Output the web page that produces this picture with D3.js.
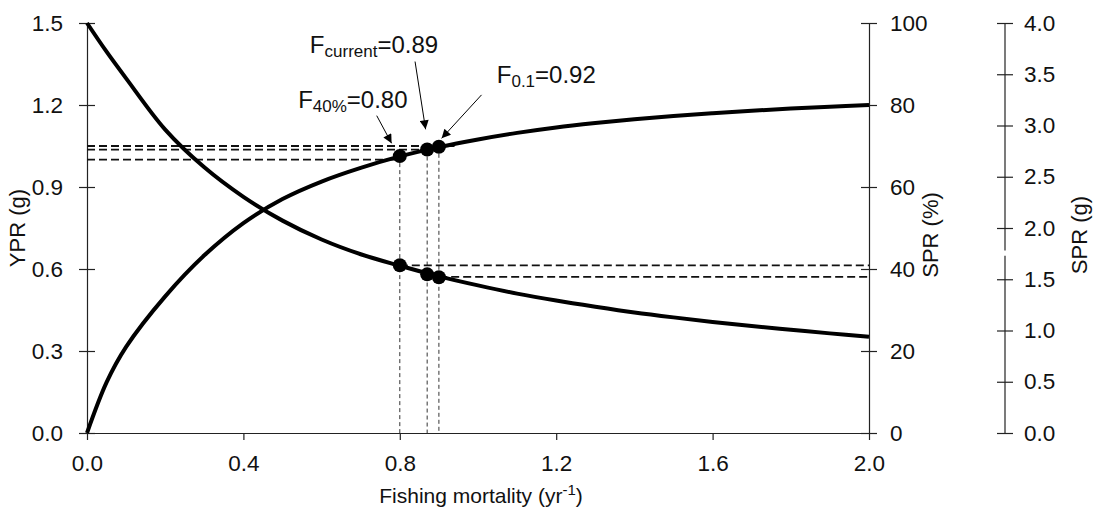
<!DOCTYPE html>
<html>
<head>
<meta charset="utf-8">
<script src="https://cdn.jsdelivr.net/npm/d3@7"></script>
<style>
  body { margin: 0; background: #fff; }
  svg { display: block; font-family: "Liberation Sans", Arial, sans-serif; }
</style>
</head>
<body>
<svg id="chart" width="1094" height="513"></svg>
<script>
// ---------- data ----------
const F = [0.0,0.05,0.1,0.2,0.3,0.4,0.5,0.6,0.7,0.8,0.9,1.0,1.1,1.2,1.3,1.4,1.5,1.6,1.7,1.8,1.9,2.0];
const ypr = [0.000,0.185,0.315,0.500,0.650,0.768,0.856,0.920,0.970,1.012,1.046,1.074,1.098,1.118,1.134,1.148,1.160,1.170,1.179,1.187,1.194,1.200];
const sprPct = [100,93.0,86.5,74.0,64.8,57.6,51.8,47.2,43.6,40.8,38.2,36.0,34.0,32.3,30.8,29.4,28.2,27.1,26.1,25.2,24.3,23.5];

const refF     = [0.80, 0.87, 0.90];          // plotted reference points
const refYPR   = [1.013, 1.037, 1.047];
const refSPR   = [40.9, 38.7, 38.0];
const yprLineVal = [1.000, 1.037, 1.050];     // upper dashed guides (YPR)
const yprLineEnd = [0.80, 0.87, 0.94];
const sprLineVal = [40.9, 38.1];              // lower dashed guides (SPR %)
const sprLineStart = [0.80, 0.87];

const labelMain = ["F", "F", "F"];
const labelSub  = ["40%", "current", "0.1"];
const labelVal  = ["=0.80", "=0.89", "=0.92"];
const labelF    = [0.540, 0.570, 1.048];
const labelY    = [1.188, 1.389, 1.280];
const arrowFromF = [0.741, 0.839, 1.009];
const arrowFromY = [1.161, 1.359, 1.237];
const arrowToF   = [0.779, 0.866, 0.907];
const arrowToY   = [1.060, 1.111, 1.078];

const xTicks = [0.0, 0.4, 0.8, 1.2, 1.6, 2.0];
const yTicks = [0.0, 0.3, 0.6, 0.9, 1.2, 1.5];
const sprTicks = [0, 20, 40, 60, 80, 100];
const sprGTicks = [0.0, 0.5, 1.0, 1.5, 2.0, 2.5, 3.0, 3.5, 4.0];
const sprGBreak = [1.73, 1.78];

// ---------- layout ----------
const svg = d3.select("#chart");
const x0 = 87, x1 = 869, yB = 433, yT = 23, xR2 = 1005;
const x = d3.scaleLinear().domain([0, 2]).range([x0, x1]);
const y = d3.scaleLinear().domain([0, 1.5]).range([yB, yT]);
const yS = d3.scaleLinear().domain([0, 100]).range([yB, yT]);
const yG = d3.scaleLinear().domain([0, 4]).range([yB, yT]);
const axisColor = "#222";
const tickFont = 22.5;

function styleAxis(g) {
  g.selectAll("path.domain").attr("stroke", axisColor).attr("stroke-width", 1.2);
  g.selectAll(".tick line").attr("stroke", axisColor).attr("stroke-width", 1.2);
  g.selectAll(".tick text").attr("fill", "#111").style("font-size", tickFont + "px")
    .style("font-family", '"Liberation Sans", Arial, sans-serif');
}

// x axis
const gx = svg.append("g").attr("transform", `translate(0,${yB})`)
  .call(d3.axisBottom(x).tickValues(xTicks).tickFormat(d3.format(".1f")).tickSize(7).tickPadding(15).tickSizeOuter(0));
styleAxis(gx);

// left axis
const gy = svg.append("g").attr("transform", `translate(${x0},0)`)
  .call(d3.axisLeft(y).tickValues(yTicks).tickFormat(d3.format(".1f")).tickSize(8).tickPadding(16).tickSizeOuter(0));
gy.selectAll(".tick").append("line").attr("x2", 8);
styleAxis(gy);

// right axis 1 (SPR %)
const gs = svg.append("g").attr("transform", `translate(${x1},0)`)
  .call(d3.axisRight(yS).tickValues(sprTicks).tickFormat(d3.format("d")).tickSize(8).tickPadding(13).tickSizeOuter(0));
gs.selectAll(".tick").append("line").attr("x2", -8);
styleAxis(gs);

// right axis 2 (SPR g) with small break
const gg = svg.append("g").attr("transform", `translate(${xR2},0)`)
  .call(d3.axisRight(yG).tickValues(sprGTicks).tickFormat(d3.format(".1f")).tickSize(8).tickPadding(11).tickSizeOuter(0));
gg.selectAll(".tick").append("line").attr("x2", -8);
gg.select("path.domain").remove();
styleAxis(gg);
gg.append("line").attr("x1", 0).attr("x2", 0).attr("y1", yG(0)).attr("y2", yG(sprGBreak[0]))
  .attr("stroke", axisColor).attr("stroke-width", 1.2);
gg.append("line").attr("x1", 0).attr("x2", 0).attr("y1", yG(sprGBreak[1])).attr("y2", yG(4))
  .attr("stroke", axisColor).attr("stroke-width", 1.2);

// ---------- guides ----------
const guides = svg.append("g");
refF.forEach((f, i) => {
  guides.append("line").attr("x1", x(f)).attr("x2", x(f)).attr("y1", y(refYPR[i])).attr("y2", yB)
    .attr("stroke", "#333").attr("stroke-width", 1).attr("stroke-dasharray", "4,3");
});
yprLineVal.forEach((v, i) => {
  guides.append("line").attr("x1", x0).attr("x2", x(yprLineEnd[i])).attr("y1", y(v)).attr("y2", y(v))
    .attr("stroke", "#111").attr("stroke-width", 1.8).attr("stroke-dasharray", "8,4");
});
sprLineVal.forEach((v, i) => {
  guides.append("line").attr("x1", x(sprLineStart[i])).attr("x2", x1).attr("y1", yS(v)).attr("y2", yS(v))
    .attr("stroke", "#111").attr("stroke-width", 1.8).attr("stroke-dasharray", "8,4");
});

// ---------- curves ----------
const curve = d3.curveCatmullRom.alpha(0.5);
const lineY = d3.line().x((d, i) => x(F[i])).y(d => y(d)).curve(curve);
const lineS = d3.line().x((d, i) => x(F[i])).y(d => yS(d)).curve(curve);
svg.append("path").attr("d", lineY(ypr)).attr("fill", "none").attr("stroke", "#000").attr("stroke-width", 4);
svg.append("path").attr("d", lineS(sprPct)).attr("fill", "none").attr("stroke", "#000").attr("stroke-width", 4);

// ---------- points ----------
refF.forEach((f, i) => {
  svg.append("circle").attr("cx", x(f)).attr("cy", y(refYPR[i])).attr("r", 7).attr("fill", "#000");
  svg.append("circle").attr("cx", x(f)).attr("cy", yS(refSPR[i])).attr("r", 7).attr("fill", "#000");
});

// ---------- annotations ----------
const defs = svg.append("defs");
defs.append("marker").attr("id", "ah").attr("viewBox", "0 0 10 10").attr("refX", 10).attr("refY", 5)
  .attr("markerWidth", 13).attr("markerHeight", 9).attr("markerUnits", "userSpaceOnUse")
  .attr("orient", "auto")
  .append("path").attr("d", "M0,0 L10,5 L0,10 z").attr("fill", "#000");

labelMain.forEach((m, i) => {
  const t = svg.append("text").attr("x", x(labelF[i])).attr("y", y(labelY[i]))
    .attr("fill", "#111").style("font-size", "24px");
  t.append("tspan").text(m);
  t.append("tspan").text(labelSub[i]).style("font-size", "17px").attr("dy", 4);
  t.append("tspan").text(labelVal[i]).attr("dy", -4);
  svg.append("line").attr("x1", x(arrowFromF[i])).attr("y1", y(arrowFromY[i]))
    .attr("x2", x(arrowToF[i])).attr("y2", y(arrowToY[i]))
    .attr("stroke", "#000").attr("stroke-width", 1).attr("marker-end", "url(#ah)");
});

// ---------- axis titles ----------
svg.append("text").attr("transform", "translate(25,228) rotate(-90)").attr("text-anchor", "middle")
  .style("font-size", "22px").attr("fill", "#111").text("YPR (g)");
svg.append("text").attr("transform", "translate(938,235) rotate(-90)").attr("text-anchor", "middle")
  .style("font-size", "22px").attr("fill", "#111").text("SPR (%)");
svg.append("text").attr("transform", "translate(1087,235) rotate(-90)").attr("text-anchor", "middle")
  .style("font-size", "22px").attr("fill", "#111").text("SPR (g)");
const xt = svg.append("text").attr("x", 481).attr("y", 503).attr("text-anchor", "middle")
  .style("font-size", "21px").attr("fill", "#111");
xt.append("tspan").text("Fishing mortality (yr");
xt.append("tspan").text("-1").style("font-size", "15px").attr("dy", -8);
xt.append("tspan").text(")").attr("dy", 8);
</script>
</body>
</html>
